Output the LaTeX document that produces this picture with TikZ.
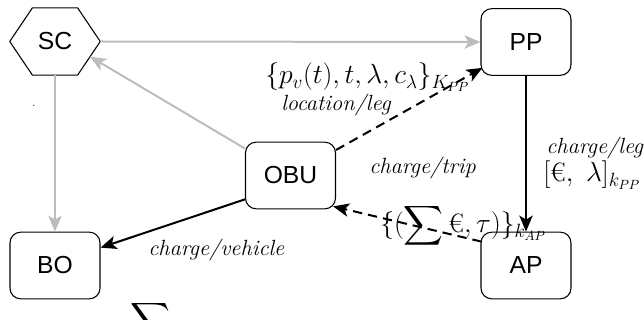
\documentclass[tikz,border=0pt]{standalone}
\usepackage{exscale}
\usepackage{fontspec}
\usepackage{graphicx}
\newfontfamily\boxfont{Liberation Sans}
\newcommand\widetxt[1]{\scalebox{1.02}[1]{#1}}
\usetikzlibrary{arrows.meta,calc}
\definecolor{edgegray}{RGB}{188,188,188}
\tikzset{
 box/.style={draw=black, line width=0.8pt, rounded corners=8pt, minimum width=67.5pt, minimum height=50pt, inner sep=0pt, font=\boxfont\fontsize{18.5}{20}\selectfont},
 hexholder/.style={minimum width=67.5pt, minimum height=50pt, inner sep=0pt, font=\boxfont\fontsize{18.5}{20}\selectfont},
 hexline/.style={draw=black, line width=0.8pt},
 grayarrow/.style={draw=edgegray, line width=1.5pt, -{Stealth[length=12pt,width=10pt,inset=3pt]}},
 blackarrow/.style={draw=black, line width=1.5pt, -{Stealth[length=12pt,width=10pt,inset=3pt]}},
 dasharrow/.style={blackarrow, dash pattern=on 7pt off 4.5pt},
 itlabel/.style={font=\itshape\fontsize{16.5}{18}\selectfont, inner sep=0pt, anchor=base west},
 mathlabel/.style={font=\fontsize{20}{22}\selectfont, inner sep=0pt, anchor=base west},
}
\begin{document}
\begin{tikzpicture}[x=0.75pt,y=-0.75pt]
\useasboundingbox (0,0) rectangle (644,320);
\clip (0,0) rectangle (644,320);
% nodes
\node[hexholder] (SC) at (55,41.5) {SC};
\coordinate (SCne) at ($(SC.north west)!0.75!(SC.north east)$);
\coordinate (SCnw) at ($(SC.north west)!0.25!(SC.north east)$);
\coordinate (SCse) at ($(SC.south west)!0.75!(SC.south east)$);
\coordinate (SCsw) at ($(SC.south west)!0.25!(SC.south east)$);
\draw[hexline] (SC.west) -- (SCnw) -- (SCne) -- (SC.east) -- (SCse) -- (SCsw) -- cycle;
\node[box] (PP) at (526,42) {PP};
\node[box] (AP) at (526,265.5) {AP};
\node[box] (BO) at (55,265.5) {BO};
\node[box] (OBU) at (290.5,175.5) {OBU};
% connectors
\draw[grayarrow] (SC.east) -- (PP.west);
\draw[grayarrow] (SC.south) -- (BO.north);
\draw[grayarrow] (OBU) -- ($(SC.east)!0.45!(SCse)$);
\draw[dasharrow] (OBU) -- ($(PP.south west)+(2,-8)$);
\draw[blackarrow] (PP) -- (AP);
\draw[dasharrow] ($(AP.north west)+(1,10)$) -- ($(OBU.south east)+(-3,-3)$);
\draw[blackarrow] ($(OBU.south west)+(0,-10)$) -- ($(BO.north east)+(0,16)$);
% labels
\node[mathlabel] (l1) at (265,84) {$\{p_v(t), t, \lambda, c_\lambda\}_{K_{PP}}$};
\node[itlabel] (l2) at (281,111) {\widetxt{location/leg}};
\node[itlabel] (l3) at (369,174) {\widetxt{charge/trip}};
\node[mathlabel] (l4) at (380,233) {$\{(\displaystyle\sum \mbox{€}, \tau)\}_{k_{AP}}$};
\node[itlabel] (l5) at (546,154) {\widetxt{charge/leg}};
\node[mathlabel] (l6) at (543,182) {$[\mbox{€},\ \lambda]_{k_{PP}}$};
\node[itlabel] (l7) at (148,256) {\widetxt{charge/vehicle}};
\node[mathlabel] (frag) at (130,330) {$\displaystyle\sum$};
\node[inner sep=0pt, font=\fontsize{8}{9}\selectfont] (dot) at (34,106) {.};
\end{tikzpicture}
\end{document}
